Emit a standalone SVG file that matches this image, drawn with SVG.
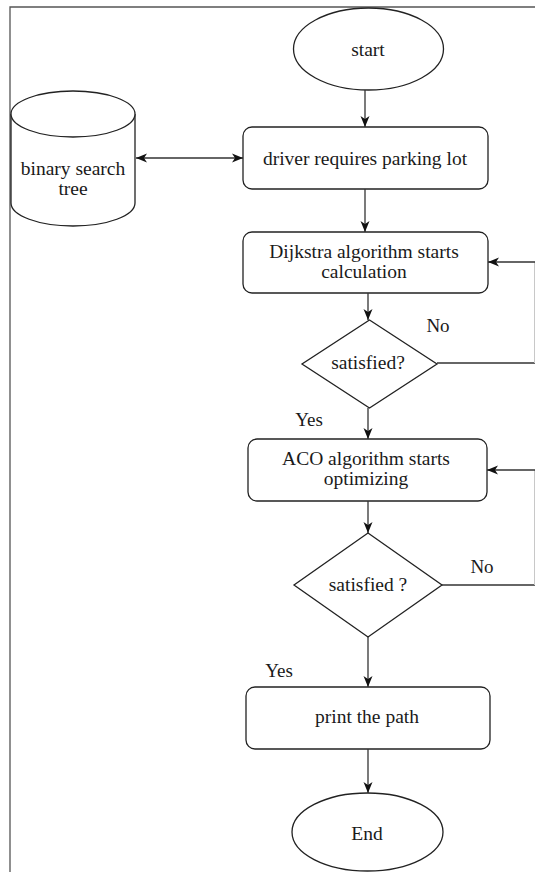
<svg xmlns="http://www.w3.org/2000/svg" width="535" height="872" viewBox="0 0 535 872">
<style>
.shape{fill:#fff;stroke:#222;stroke-width:1.3}
text{font-family:"Liberation Serif","Tinos","Times New Roman","DejaVu Serif",serif;fill:#1a1a1a;text-anchor:middle}
.t{font-size:19.5px}
.lbl{font-size:19px}
.c{fill:none;stroke:#333;stroke-width:1.3}
.faint{fill:none;stroke:#c8c8c8;stroke-width:1}
</style>
<defs>
<marker id="ah" markerUnits="userSpaceOnUse" markerWidth="12" markerHeight="10" refX="11" refY="5" orient="auto-start-reverse">
<path d="M0,0.5 L11,5 L0,9.5 L3,5 Z" fill="#111"/>
</marker>
</defs>
<rect width="535" height="872" fill="#fff"/>
<path d="M10,872 V7 H535" fill="none" stroke="#555" stroke-width="1.3"/>

<g id="start">
<ellipse class="shape" cx="368.5" cy="49" rx="75" ry="41"/>
<text class="t" x="368" y="56" font-family="Liberation Serif, serif">start</text>
</g>
<g id="bst">
<path class="shape" d="M11,114 V203 A62,23 0 0 0 135,203 V114 A62,23 0 0 0 11,114 Z"/>
<path class="shape" d="M11,114 A62,23 0 0 0 135,114" fill="none"/>
<text class="t" x="73" y="175" font-family="Liberation Serif, serif">binary search</text>
<text class="t" x="73" y="194.5" font-family="Liberation Serif, serif">tree</text>
</g>
<g id="driver">
<rect class="shape" x="243" y="127" width="245" height="62" rx="9"/>
<text class="t" x="365" y="165" font-family="Liberation Serif, serif">driver requires parking lot</text>
</g>
<g id="dijkstra">
<rect class="shape" x="243" y="232" width="245" height="61" rx="9"/>
<text class="t" x="364" y="258" font-family="Liberation Serif, serif">Dijkstra algorithm starts</text>
<text class="t" x="364" y="277.5" font-family="Liberation Serif, serif">calculation</text>
</g>
<g id="sat1">
<polygon class="shape" points="369.5,320 437,364 369.5,408 302,364"/>
<text class="t" x="368" y="369" font-family="Liberation Serif, serif">satisfied?</text>
</g>
<g id="aco">
<rect class="shape" x="248" y="439" width="239" height="62" rx="9"/>
<text class="t" x="366" y="465" font-family="Liberation Serif, serif">ACO algorithm starts</text>
<text class="t" x="366" y="484.5" font-family="Liberation Serif, serif">optimizing</text>
</g>
<g id="sat2">
<polygon class="shape" points="368,533 442,585 368,637 294,585"/>
<text class="t" x="368" y="591" font-family="Liberation Serif, serif">satisfied ?</text>
</g>
<g id="print">
<rect class="shape" x="246" y="687" width="244" height="62" rx="9"/>
<text class="t" x="367" y="723" font-family="Liberation Serif, serif">print the path</text>
</g>
<g id="end">
<ellipse class="shape" cx="367.5" cy="832" rx="75.5" ry="39"/>
<text class="t" x="367" y="840" font-family="Liberation Serif, serif">End</text>
</g>

<g id="connectors">
<path class="c" d="M365,90 V127" marker-end="url(#ah)"/>
<path class="c" d="M136,158 H243" marker-start="url(#ah)" marker-end="url(#ah)"/>
<path class="c" d="M365,189 V232" marker-end="url(#ah)"/>
<path class="c" d="M368,293 V320" marker-end="url(#ah)"/>
<path class="c" d="M437,363 H535"/>
<path class="faint" d="M534.5,262 V363"/>
<path class="c" d="M535,262 H488" marker-end="url(#ah)"/>
<path class="c" d="M368,408 V439" marker-end="url(#ah)"/>
<path class="c" d="M368,501 V533" marker-end="url(#ah)"/>
<path class="c" d="M442,585 H535"/>
<path class="faint" d="M534.5,470 V585"/>
<path class="c" d="M535,470 H487" marker-end="url(#ah)"/>
<path class="c" d="M368,637 V687" marker-end="url(#ah)"/>
<path class="c" d="M368,749 V793" marker-end="url(#ah)"/>
<text class="lbl" x="438" y="332" font-family="Liberation Serif, serif">No</text>
<text class="lbl" x="309" y="426" font-family="Liberation Serif, serif">Yes</text>
<text class="lbl" x="482" y="573" font-family="Liberation Serif, serif">No</text>
<text class="lbl" x="279" y="677" font-family="Liberation Serif, serif">Yes</text>
</g>
</svg>
